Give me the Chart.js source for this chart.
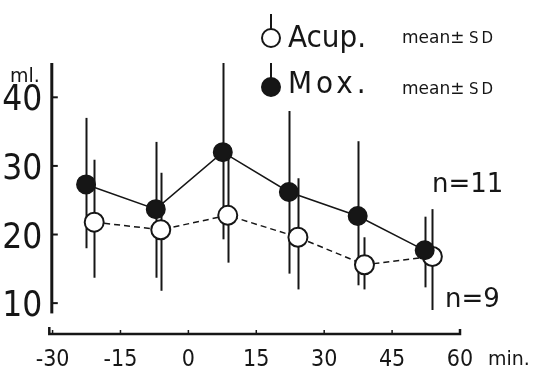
<!DOCTYPE html>
<html>
<head>
<meta charset="utf-8">
<script src="https://cdn.jsdelivr.net/npm/chart.js@4/dist/chart.umd.min.js"></script>
<style>
  html, body { margin: 0; padding: 0; background: #fff; }
  #wrap { width: 538px; height: 367px; }
</style>
</head>
<body>
<div id="wrap"><canvas id="chart"></canvas></div>
<script>
// minutes (the two groups are drawn slightly apart)
const moxMin  = [-22.6, -7.2, 7.6, 22.2, 37.4, 52.2];
const acupMin = [-20.8, -6.1, 8.7, 24.2, 38.9, 53.9];

// Mox. (n=11): mean, and ends of the SD bars
const moxMean = [27.3, 23.7, 32.0, 26.2, 22.7, 17.7];
const moxLow  = [18.0, 13.7, 19.3, 14.3, 12.6, 12.3];
const moxHigh = [37.0, 33.5, 45.0, 38.0, 33.6, 22.6];

// Acup. (n=9)
const acupMean = [21.8, 20.7, 22.8, 19.6, 15.6, 16.8];
const acupLow  = [13.7, 11.8, 15.9, 12.0, 12.0,  9.0];
const acupHigh = [30.9, 29.0, 31.0, 28.2, 19.6, 23.7];

const xTicks = [-30, -15, 0, 15, 30, 45, 60];
const yTicks = [10, 20, 30, 40];

const ink = '#161616';
const narrow = "'Liberation Sans Narrow', 'DejaVu Sans Condensed', 'Liberation Sans', sans-serif";
const plain = "'DejaVu Sans', sans-serif";

function pts(xs, ys) {
    return xs.map((m, i) => ({ x: m, y: ys[i] }));
}

// SD bars, hand-drawn looking axes and the loose labels
const decor = {
    id: 'decor',
    beforeDatasetsDraw(chart) {
        const ctx = chart.ctx, sx = chart.scales.x, sy = chart.scales.y;
        const area = chart.chartArea;
        ctx.save();
        ctx.strokeStyle = ink;
        ctx.lineCap = 'butt';

        // error bars
        ctx.lineWidth = 2;
        [[moxMin, moxLow, moxHigh], [acupMin, acupLow, acupHigh]].forEach(([xs, lo, hi]) => {
            xs.forEach((m, i) => {
                const px = Math.round(sx.getPixelForValue(m)) + 0.5;
                ctx.beginPath();
                ctx.moveTo(px, sy.getPixelForValue(hi[i]));
                ctx.lineTo(px, sy.getPixelForValue(lo[i]));
                ctx.stroke();
            });
        });

        // y axis
        const ax = area.left + 1.5;
        ctx.lineWidth = 3;
        ctx.beginPath();
        ctx.moveTo(ax, sy.getPixelForValue(45));
        ctx.lineTo(ax, sy.getPixelForValue(8.5));
        ctx.stroke();
        ctx.lineWidth = 2;
        yTicks.forEach(v => {
            const py = sy.getPixelForValue(v);
            ctx.beginPath();
            ctx.moveTo(ax, py);
            ctx.lineTo(ax + 6, py);
            ctx.stroke();
        });

        // x axis
        const by = area.bottom;
        ctx.lineWidth = 2.5;
        ctx.beginPath();
        ctx.moveTo(area.left - 1, by - 7);
        ctx.lineTo(area.left - 1, by);
        ctx.lineTo(sx.getPixelForValue(60), by);
        ctx.lineTo(sx.getPixelForValue(60), by - 5);
        ctx.stroke();
        ctx.lineWidth = 1.5;
        xTicks.forEach(v => {
            const px = sx.getPixelForValue(v);
            ctx.beginPath();
            ctx.moveTo(px, by);
            ctx.lineTo(px, by - 4);
            ctx.stroke();
        });
        ctx.restore();
    },
    afterDraw(chart) {
        const ctx = chart.ctx;
        ctx.save();
        ctx.fillStyle = ink;
        ctx.strokeStyle = ink;
        ctx.textBaseline = 'alphabetic';
        ctx.textAlign = 'left';

        // legend: marker with a stem, name, "mean± SD"
        const rows = [
            { cy: 38, fill: '#fff', name: 'Acup.', base: 47, sp: '0px', note: 43 },
            { cy: 87, fill: ink, name: 'Mox.', base: 93, sp: '4px', note: 94 }
        ];
        rows.forEach(r => {
            ctx.lineWidth = 2;
            ctx.beginPath();
            ctx.moveTo(271, r.cy - 24);
            ctx.lineTo(271, r.cy - 9);
            ctx.stroke();
            ctx.beginPath();
            ctx.arc(271, r.cy, 9, 0, Math.PI * 2);
            ctx.fillStyle = r.fill;
            ctx.fill();
            ctx.stroke();
            ctx.fillStyle = ink;
            ctx.font = '31px ' + narrow;
            ctx.letterSpacing = r.sp;
            ctx.fillText(r.name, 288, r.base);
            ctx.letterSpacing = '0px';
            ctx.font = '17px ' + plain;
            ctx.fillText('mean±', 402, r.note);
            ctx.font = '15px ' + plain;
            ctx.letterSpacing = '3px';
            ctx.fillText('SD', 469, r.note);
            ctx.letterSpacing = '0px';
        });

        ctx.font = '19px ' + plain;
        ctx.fillText('ml.', 10, 82);
        ctx.fillText('min.', 488, 365);

        ctx.font = '26px ' + plain;
        ctx.fillText('n=11', 432, 192);
        ctx.fillText('n=9', 445, 307);
        ctx.restore();
    }
};

new Chart(document.getElementById('chart'), {
    type: 'scatter',
    data: {
        datasets: [
            {
                label: 'Mox.',
                data: pts(moxMin, moxMean),
                showLine: true,
                borderColor: ink,
                borderWidth: 1.5,
                pointRadius: 9,
                pointBorderWidth: 2,
                pointBackgroundColor: ink,
                pointBorderColor: ink,
                order: 0
            },
            {
                label: 'Acup.',
                data: pts(acupMin, acupMean),
                showLine: true,
                borderColor: ink,
                borderWidth: 1.5,
                borderDash: [6, 4],
                pointRadius: 9.5,
                pointBorderWidth: 2,
                pointBackgroundColor: '#fff',
                pointBorderColor: ink,
                order: 1
            }
        ]
    },
    options: {
        responsive: true,
        maintainAspectRatio: false,
        animation: false,
        layout: { padding: { top: 63, right: 78, left: 0, bottom: 0 } },
        plugins: {
            legend: { display: false },
            tooltip: { enabled: false }
        },
        scales: {
            x: {
                type: 'linear',
                min: -30.5,
                max: 60,
                grid: { display: false, drawTicks: false },
                border: { display: false },
                afterBuildTicks: s => { s.ticks = xTicks.map(v => ({ value: v })); },
                afterFit: s => { s.height = 33; },
                ticks: {
                    color: ink,
                    padding: 12,
                    font: { family: narrow, size: 23 }
                }
            },
            y: {
                min: 5.5,
                max: 45,
                grid: { display: false, drawTicks: false },
                border: { display: false },
                afterBuildTicks: s => { s.ticks = yTicks.map(v => ({ value: v })); },
                afterFit: s => { s.width = 50.3; },
                ticks: {
                    color: ink,
                    padding: 8,
                    labelOffset: 4,
                    font: { family: narrow, size: 35 }
                }
            }
        }
    },
    plugins: [decor]
});
</script>
</body>
</html>
